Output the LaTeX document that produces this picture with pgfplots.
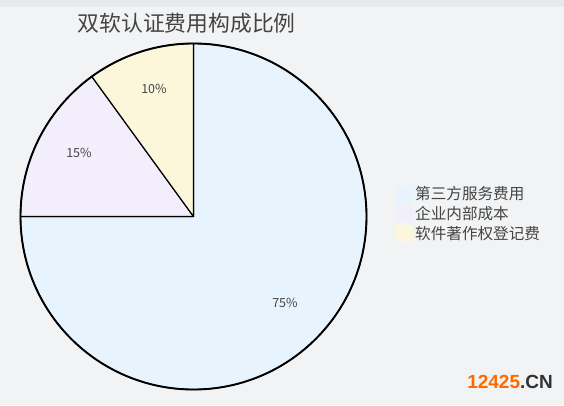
\documentclass[border=0pt]{standalone}
\usepackage{pgfplots}
\pgfplotsset{compat=1.18}
\usepackage{fontspec}
\setmainfont{Noto Sans CJK SC}
\newfontfamily\cjk{Noto Sans CJK SC}
\newfontfamily\wmfont{Liberation Sans}
\definecolor{bg}{HTML}{F2F3F5}
\definecolor{topband}{HTML}{E8E9EB}
\definecolor{cA}{HTML}{E8F4FD}
\definecolor{cB}{HTML}{F3EEFB}
\definecolor{cC}{HTML}{FCF6DA}
\definecolor{txt}{HTML}{444444}
\definecolor{wmorange}{HTML}{FF6A00}
\definecolor{wmdark}{HTML}{333333}
% data (percent)
\def\valA{75}
\def\valB{15}
\def\valC{10}
\pgfmathsetmacro{\aStart}{90}
\pgfmathsetmacro{\aEnd}{90-3.6*\valA}
\pgfmathsetmacro{\bEnd}{\aEnd-3.6*\valB}
\pgfmathsetmacro{\cEnd}{\bEnd-3.6*\valC}
\def\R{173pt}
\begin{document}
\begin{tikzpicture}
\fill[bg] (0,0) rectangle (564pt,405pt);
\fill[topband] (0,398pt) rectangle (564pt,405pt);
\begin{axis}[x=1pt,y=1pt,xmin=0,xmax=564,ymin=0,ymax=405,
  hide axis,scale only axis,at={(0,0)},anchor=south west,clip=false]
% slices
\fill[cA,draw=black,line width=1.2pt,line join=round] (axis cs:193.5,188.5) -- ++(\aStart:\R) arc[start angle=\aStart,end angle=\aEnd,radius=\R] -- cycle;
\fill[cB,draw=black,line width=1.2pt,line join=round] (axis cs:193.5,188.5) -- ++(\aEnd:\R) arc[start angle=\aEnd,end angle=\bEnd,radius=\R] -- cycle;
\fill[cC,draw=black,line width=1.2pt,line join=round] (axis cs:193.5,188.5) -- ++(\bEnd:\R) arc[start angle=\bEnd,end angle=\cEnd,radius=\R] -- cycle;
\draw[black,line width=1.9pt] (axis cs:193.5,188.5) circle[radius=\R];
% labels
\node[text=txt,font=\fontsize{12.5}{14}\selectfont] at (axis cs:154,316) {\valC\%};
\node[text=txt,font=\fontsize{12.5}{14}\selectfont] at (axis cs:79,252) {\valB\%};
\node[text=txt,font=\fontsize{12.5}{14}\selectfont] at (axis cs:285,102) {\valA\%};
% title
\node[text=txt,font=\fontsize{21.8}{24}\selectfont,anchor=west,inner sep=0pt] at (axis cs:77.5,382) {双软认证费用构成比例};
% legend
\fill[cA] (axis cs:395,219) rectangle (axis cs:413,202);
\fill[cB] (axis cs:395,200) rectangle (axis cs:413,183);
\fill[cC] (axis cs:395,180) rectangle (axis cs:413,163);
\node[text=txt,font=\fontsize{15.6}{17}\selectfont,anchor=west,inner sep=0pt] at (axis cs:415,211) {第三方服务费用};
\node[text=txt,font=\fontsize{15.6}{17}\selectfont,anchor=west,inner sep=0pt] at (axis cs:415,191) {企业内部成本};
\node[text=txt,font=\fontsize{15.6}{17}\selectfont,anchor=west,inner sep=0pt] at (axis cs:415,171) {软件著作权登记费};
\end{axis}
% watermark
\node[font=\fontsize{19}{22}\selectfont\bfseries\wmfont,anchor=east,inner sep=0pt] at (553pt,23pt) {\textcolor{wmorange}{12425}\textcolor{wmdark}{.CN}};
\end{tikzpicture}
\end{document}
